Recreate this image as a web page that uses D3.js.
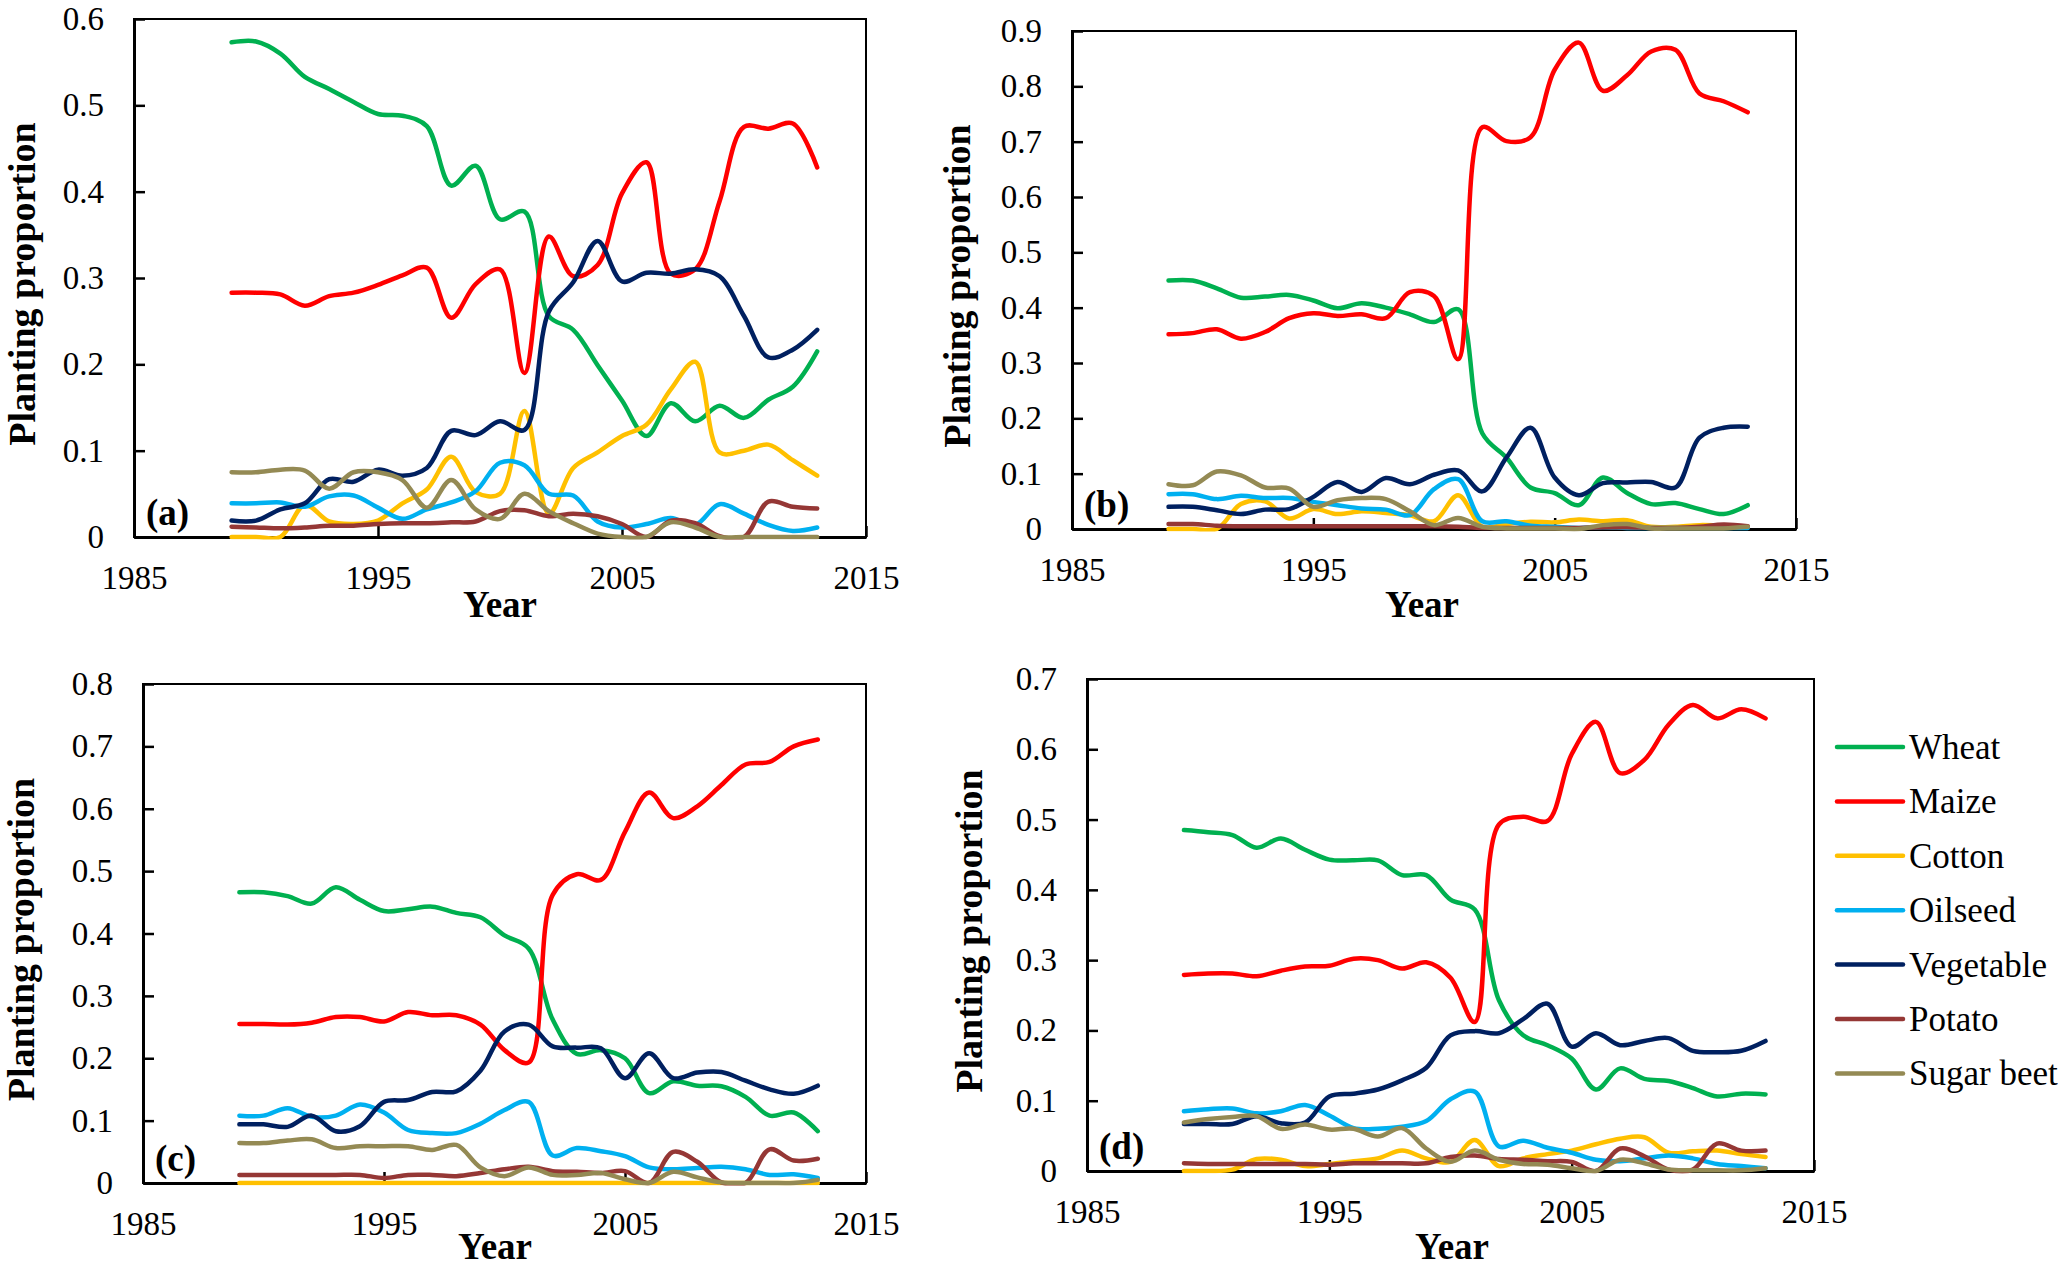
<!DOCTYPE html>
<html>
<head>
<meta charset="utf-8">
<script src="https://cdn.jsdelivr.net/npm/d3@7"></script>
<style>
  body { margin: 0; background: #fff; }
  svg { display: block; }
  svg text { font-family: "Liberation Serif", "Times New Roman", serif; }
</style>
</head>
<body>
<div id="chart"></div>
<script>
const years = [1989, 1990, 1991, 1992, 1993, 1994, 1995, 1996, 1997, 1998, 1999, 2000, 2001,
  2002, 2003, 2004, 2005, 2006, 2007, 2008, 2009, 2010, 2011, 2012, 2013];
const crops = ["Wheat", "Maize", "Cotton", "Oilseed", "Vegetable", "Potato", "Sugar beet"];
const cropColors = ["#00B050", "#FF0000", "#FFC000", "#00B0F0", "#002060", "#953735", "#948A54"];
const yearTicks = [1985, 1995, 2005, 2015];

// (a)
const wheatA = [0.573,0.574,0.560,0.533,0.519,0.504,0.490,0.488,0.476,0.407,0.430,0.368,0.377,0.256,0.240,0.199,0.158,0.117,0.155,0.134,0.152,0.138,0.159,0.174,0.215];
const maizeA = [0.283,0.283,0.281,0.268,0.279,0.283,0.292,0.303,0.312,0.254,0.293,0.310,0.190,0.348,0.302,0.315,0.398,0.434,0.305,0.310,0.389,0.475,0.473,0.479,0.428];
const cottonA = [0,0,0,0.037,0.018,0.015,0.019,0.039,0.055,0.093,0.052,0.050,0.146,0.027,0.080,0.098,0.117,0.130,0.171,0.203,0.098,0.100,0.107,0.089,0.071];
const oilseedA = [0.039,0.039,0.040,0.035,0.047,0.048,0.034,0.021,0.032,0.040,0.053,0.086,0.083,0.050,0.048,0.018,0.011,0.015,0.022,0.014,0.038,0.027,0.014,0.007,0.011];
const vegetableA = [0.019,0.019,0.032,0.039,0.067,0.064,0.078,0.071,0.080,0.123,0.118,0.134,0.124,0.261,0.295,0.343,0.296,0.306,0.305,0.310,0.302,0.256,0.208,0.217,0.240];
const potatoA = [0.012,0.011,0.010,0.011,0.013,0.013,0.015,0.016,0.016,0.017,0.018,0.030,0.031,0.024,0.027,0.024,0.015,0,0.019,0.016,0.001,0,0.041,0.035,0.033];
const sugarA = [0.075,0.075,0.078,0.077,0.056,0.075,0.075,0.066,0.034,0.066,0.032,0.021,0.050,0.030,0.016,0.004,0,0,0.017,0.011,0,0,0,0,0];

// (b)
const wheatB = [0.449,0.449,0.435,0.418,0.420,0.423,0.413,0.399,0.408,0.400,0.388,0.374,0.397,0.173,0.129,0.075,0.065,0.043,0.093,0.065,0.045,0.047,0.036,0.027,0.043];
const maizeB = [0.352,0.354,0.361,0.344,0.356,0.381,0.390,0.385,0.388,0.381,0.428,0.421,0.307,0.726,0.701,0.708,0.830,0.879,0.792,0.820,0.863,0.866,0.787,0.773,0.753];
const cottonB = [0,0,0,0.045,0.050,0.019,0.036,0.027,0.032,0.029,0.025,0.014,0.061,0.004,0.009,0.013,0.012,0.017,0.014,0.016,0.004,0.004,0.007,0.006,0.004];
const oilseedB = [0.063,0.063,0.054,0.060,0.056,0.056,0.049,0.043,0.037,0.035,0.025,0.072,0.090,0.014,0.014,0.006,0.004,0.002,0.003,0.002,0.002,0.002,0.002,0.002,0.002];
const vegetableB = [0.040,0.040,0.034,0.027,0.035,0.036,0.058,0.085,0.067,0.092,0.081,0.098,0.106,0.068,0.129,0.183,0.093,0.061,0.083,0.084,0.085,0.075,0.165,0.183,0.185];
const potatoB = [0.009,0.009,0.006,0.005,0.005,0.005,0.005,0.005,0.005,0.005,0.005,0.005,0.004,0.002,0.002,0.002,0.002,0.002,0.003,0.003,0.002,0.002,0.004,0.008,0.005];
const sugarB = [0.081,0.079,0.104,0.097,0.075,0.073,0.040,0.052,0.056,0.054,0.032,0.007,0.020,0.004,0.001,0.001,0.001,0,0.007,0.009,0.001,0.001,0.001,0.001,0.004];

// (c)
const wheatC = [0.466,0.466,0.460,0.448,0.474,0.454,0.436,0.439,0.443,0.433,0.426,0.397,0.376,0.262,0.207,0.213,0.200,0.144,0.163,0.156,0.155,0.138,0.108,0.113,0.083];
const maizeC = [0.255,0.255,0.254,0.257,0.266,0.266,0.259,0.274,0.269,0.269,0.254,0.213,0.193,0.462,0.495,0.486,0.563,0.626,0.585,0.604,0.638,0.671,0.675,0.700,0.711];
const cottonC = [0,0,0,0,0,0,0,0,0,0,0,0,0,0,0,0,0,0,0,0,0,0,0,0,0];
const oilseedC = [0.108,0.108,0.120,0.106,0.108,0.126,0.113,0.085,0.080,0.080,0.095,0.117,0.130,0.044,0.056,0.051,0.043,0.025,0.022,0.024,0.026,0.022,0.013,0.014,0.008];
const vegetableC = [0.094,0.094,0.090,0.108,0.083,0.091,0.130,0.133,0.146,0.147,0.180,0.243,0.254,0.219,0.217,0.216,0.168,0.208,0.168,0.177,0.178,0.164,0.150,0.143,0.156];
const potatoC = [0.013,0.013,0.013,0.013,0.013,0.013,0.008,0.013,0.013,0.011,0.016,0.022,0.026,0.019,0.018,0.016,0.019,0,0.050,0.034,0.001,0,0.054,0.036,0.039];
const sugarC = [0.064,0.064,0.068,0.070,0.056,0.059,0.059,0.059,0.053,0.061,0.025,0.011,0.025,0.013,0.013,0.016,0.006,0,0.018,0.009,0.001,0,0,0,0.005];

// (d)
const wheatD = [0.485,0.482,0.478,0.460,0.473,0.457,0.443,0.442,0.442,0.421,0.421,0.386,0.372,0.243,0.193,0.179,0.160,0.116,0.146,0.131,0.128,0.118,0.106,0.110,0.109];
const maizeD = [0.279,0.281,0.281,0.277,0.285,0.291,0.292,0.302,0.300,0.288,0.297,0.275,0.212,0.493,0.504,0.498,0.593,0.639,0.566,0.585,0.635,0.663,0.644,0.657,0.644];
const cottonD = [0,0,0.002,0.017,0.016,0.007,0.010,0.014,0.018,0.029,0.018,0.013,0.044,0.007,0.018,0.024,0.029,0.038,0.046,0.048,0.026,0.028,0.029,0.024,0.020];
const oilseedD = [0.085,0.088,0.089,0.082,0.085,0.094,0.079,0.061,0.060,0.063,0.071,0.102,0.113,0.035,0.043,0.033,0.026,0.016,0.014,0.018,0.022,0.018,0.010,0.007,0.004];
const vegetableD = [0.067,0.067,0.067,0.078,0.068,0.069,0.106,0.110,0.116,0.129,0.147,0.193,0.199,0.196,0.216,0.238,0.177,0.196,0.179,0.185,0.189,0.171,0.169,0.171,0.185];
const potatoD = [0.011,0.010,0.010,0.010,0.010,0.010,0.009,0.011,0.011,0.011,0.011,0.020,0.022,0.017,0.016,0.014,0.013,0,0.032,0.021,0.002,0.002,0.039,0.029,0.029];
const sugarD = [0.069,0.074,0.077,0.078,0.060,0.066,0.059,0.060,0.049,0.061,0.032,0.013,0.029,0.016,0.010,0.009,0.004,0,0.016,0.011,0.002,0.001,0.001,0.001,0.004];

const panelSeries = {
  a: [wheatA, maizeA, cottonA, oilseedA, vegetableA, potatoA, sugarA],
  b: [wheatB, maizeB, cottonB, oilseedB, vegetableB, potatoB, sugarB],
  c: [wheatC, maizeC, cottonC, oilseedC, vegetableC, potatoC, sugarC],
  d: [wheatD, maizeD, cottonD, oilseedD, vegetableD, potatoD, sugarD]
};
const panelMax = { a: 0.6, b: 0.9, c: 0.8, d: 0.7 };

// layout of the four plot areas (pixels)
const panels = [
  { id: "a", left: 134, right: 866, top: 19, bottom: 537, yLabX: 35, yearX: 500, yearY: 617 },
  { id: "b", left: 1072, right: 1796, top: 31, bottom: 529, yLabX: 970, yearX: 1422, yearY: 617 },
  { id: "c", left: 143, right: 866, top: 684, bottom: 1183, yLabX: 34, yearX: 495, yearY: 1259 },
  { id: "d", left: 1087, right: 1814, top: 679, bottom: 1171, yLabX: 982, yearX: 1452, yearY: 1259 }
];

const W = 2067, H = 1269;
const font = "Liberation Serif, Times New Roman, serif";

const svg = d3.select("#chart")
  .append("svg")
  .attr("width", W)
  .attr("height", H)
  .style("background", "#fff");

panels.forEach(p => {
  const x = d3.scaleLinear().domain([1985, 2015]).range([p.left, p.right]);
  const y = d3.scaleLinear().domain([0, panelMax[p.id]]).range([p.bottom, p.top]);
  const yTicks = d3.range(0, Math.round(panelMax[p.id] * 10) + 1).map(i => i / 10);

  const g = svg.append("g");

  // plot border (top / right)
  g.append("rect")
    .attr("x", p.left)
    .attr("y", p.top)
    .attr("width", p.right - p.left)
    .attr("height", p.bottom - p.top)
    .attr("fill", "none")
    .attr("stroke", "#000")
    .attr("stroke-width", 2);

  const yAxis = d3.axisLeft(y)
    .tickValues(yTicks)
    .tickFormat(d => d === 0 ? "0" : d3.format(".1f")(d))
    .tickSizeInner(-11)
    .tickSizeOuter(0)
    .tickPadding(30);
  const xAxis = d3.axisBottom(x)
    .tickValues(yearTicks)
    .tickFormat(d3.format("d"))
    .tickSizeInner(-11)
    .tickSizeOuter(0)
    .tickPadding(29);

  const ya = g.append("g")
    .attr("transform", `translate(${p.left},0)`)
    .call(yAxis);
  const xa = g.append("g")
    .attr("transform", `translate(0,${p.bottom})`)
    .call(xAxis);
  [ya, xa].forEach(a => {
    a.attr("font-family", font).attr("font-size", 33);
    a.selectAll("text")
      .style("font-family", font)
      .style("font-size", "33px")
      .attr("fill", "#000");
    a.selectAll("line").attr("stroke", "#000").attr("stroke-width", 2.5);
    a.select(".domain").attr("stroke", "#000").attr("stroke-width", 3);
  });

  // clip so smoothing overshoot stays near the plot area
  svg.append("clipPath")
    .attr("id", "clip-" + p.id)
    .append("rect")
    .attr("x", p.left)
    .attr("y", p.top)
    .attr("width", p.right - p.left)
    .attr("height", p.bottom - p.top + 2.5);

  const line = d3.line()
    .x((d, i) => x(years[i]))
    .y(d => y(d))
    .curve(d3.curveCatmullRom.alpha(0.5));

  g.append("g")
    .attr("clip-path", `url(#clip-${p.id})`)
    .selectAll("path")
    .data(panelSeries[p.id])
    .enter()
    .append("path")
    .attr("d", line)
    .attr("fill", "none")
    .attr("stroke", (d, i) => cropColors[i])
    .attr("stroke-width", 4.5)
    .attr("stroke-linejoin", "round")
    .attr("stroke-linecap", "round");

  // panel letter
  g.append("text")
    .attr("x", p.left + 12)
    .attr("y", p.bottom - 12)
    .attr("font-weight", "bold")
    .attr("font-size", 37)
    .text(`(${p.id})`);

  // axis titles
  g.append("text")
    .attr("transform", `translate(${p.yLabX},${(p.top + p.bottom) / 2 + 6}) rotate(-90)`)
    .attr("text-anchor", "middle")
    .attr("font-weight", "bold")
    .attr("font-size", 38)
    .text("Planting proportion");

  g.append("text")
    .attr("x", p.yearX)
    .attr("y", p.yearY)
    .attr("text-anchor", "middle")
    .attr("font-weight", "bold")
    .attr("font-size", 37)
    .text("Year");
});

// legend
const legend = svg.append("g")
  .selectAll("g")
  .data(crops)
  .enter()
  .append("g")
  .attr("transform", (d, i) => `translate(1837,${747 + i * 54.4})`);
legend.append("line")
  .attr("x1", 0)
  .attr("x2", 66)
  .attr("stroke", (d, i) => cropColors[i])
  .attr("stroke-width", 4.5)
  .attr("stroke-linecap", "round");
legend.append("text")
  .attr("x", 72)
  .attr("y", 12)
  .attr("font-size", 35)
  .text(d => d);
</script>
</body>
</html>
